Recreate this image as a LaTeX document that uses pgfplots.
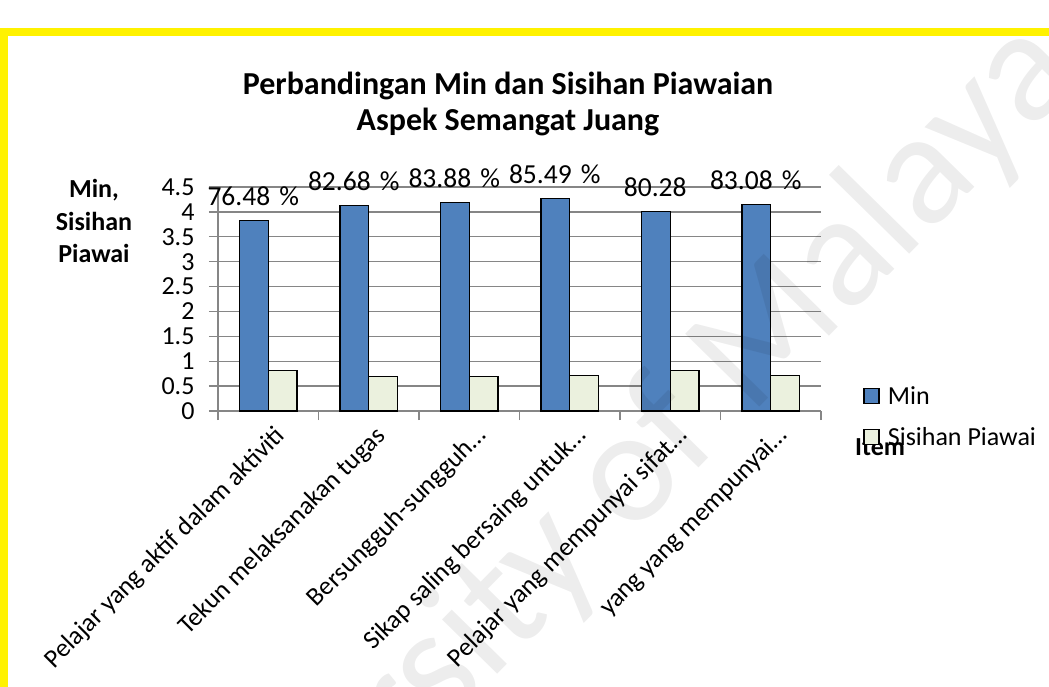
\documentclass[border=0pt]{standalone}
\usepackage{fontspec}
\setmainfont{Carlito}
\usepackage{pgfplots}
\pgfplotsset{compat=1.18}
\definecolor{minblue}{HTML}{4F81BD}
\definecolor{sdfill}{HTML}{EBF1DE}
\definecolor{gridgray}{HTML}{868686}
\newcommand{\fs}{\fontsize{26pt}{31pt}\selectfont}
\newcommand{\fl}{\fontsize{27.5pt}{32pt}\selectfont}
\newcommand{\pct}{\hspace{0.33em}\%}
\begin{document}
\begin{tikzpicture}[x=1pt,y=1pt]
\path[use as bounding box, fill=white] (0,0) rectangle (1049,-687);
% yellow frame
\draw[yellow, line width=8pt] (0,-32) -- (1060,-32);
\draw[yellow, line width=8pt] (4,-28) -- (4,-700);
\begin{axis}[
  at={(218pt,-411pt)}, anchor=south west,
  width=603pt, height=224pt, scale only axis,
  xmin=0.5, xmax=6.5, ymin=0, ymax=4.5,
  ybar,
  bar width=0.285,
  axis x line*=bottom, axis y line*=left,
  axis line style={draw=gridgray, line width=1.3pt, -},
  ytick={0,0.5,1,1.5,2,2.5,3,3.5,4,4.5},
  ymajorgrids,
  grid style={draw=gridgray, line width=1.3pt},
  xtick={1,2,3,4,5,6},
  xticklabels={Pelajar yang aktif dalam aktiviti, Tekun melaksanakan tugas, Bersungguh-sungguh…, Sikap saling bersaing untuk…, Pelajar yang mempunyai sifat…, yang yang mempunyai…},
  major x tick style={draw=none},
  minor xtick={0.5,1.5,2.5,3.5,4.5,5.5,6.5},
  minor x tick style={draw=gridgray, line width=1.3pt},
  y tick style={draw=gridgray, line width=1.3pt},
  tick align=outside,
  major tick length=9pt, minor tick length=9pt,
  /pgf/number format/assume math mode=true,
  tick label style={font=\fs},
  yticklabel style={xshift=-11pt},
  xticklabel style={xshift=18pt, yshift=-17pt, rotate=45, anchor=base east, inner sep=0pt},
  xlabel={Item},
  xlabel style={at={(axis description cs:1.098,-0.161)}, anchor=center, font=\fs\bfseries},
  legend style={at={(axis description cs:1.0697,0.119)}, anchor=north west, draw=none, fill=none, inner sep=0pt, row sep=15pt,
    nodes={inner sep=0pt, text height=20pt, text depth=6pt, font=\fs, anchor=base west}},
  legend cell align=left,
  legend image code/.code={\draw[#1, draw=black, line width=1.3pt] (0pt,0.8pt) rectangle (15pt,15.8pt); \path[draw=none, fill=none] (0pt,0pt) -- (24pt,0pt);},
  clip=false,
]
\addplot[fill=minblue, draw=black, line width=1.3pt, bar shift=-0.1425,
  nodes near coords, point meta=explicit symbolic,
  every node near coord/.style={font=\fl, anchor=base, xshift=-15pt, yshift=15pt, inner sep=0pt, text=black}]
  coordinates {(1,3.824) [76.48\pct] (2,4.134) [82.68\pct] (3,4.194) [83.88\pct] (4,4.2745) [85.49\pct] (5,4.014) [80.28] (6,4.154) [83.08\pct]};
\addlegendentry{Min}
\addplot[fill=sdfill, draw=black, line width=1.3pt, bar shift=0.1425]
  coordinates {(1,0.81) (2,0.69) (3,0.69) (4,0.71) (5,0.81) (6,0.71)};
\addlegendentry{Sisihan Piawai}
\end{axis}
% title
\node[anchor=base, font=\fontsize{32pt}{36pt}\selectfont\bfseries] at (508,-95) {Perbandingan Min dan Sisihan Piawaian};
\node[anchor=base, font=\fontsize{32pt}{36pt}\selectfont\bfseries] at (508,-131) {Aspek Semangat Juang};
% y axis label
\node[anchor=base, font=\fs\bfseries] at (94,-198) {Min,};
\node[anchor=base, font=\fs\bfseries] at (94,-230) {Sisihan};
\node[anchor=base, font=\fs\bfseries] at (94,-262) {Piawai};
% watermark
\node[rotate=45.5, text=black, text opacity=0.07, font=\fontsize{162pt}{162pt}\selectfont] at (582,-526) {University of Malaya};
\end{tikzpicture}
\end{document}
